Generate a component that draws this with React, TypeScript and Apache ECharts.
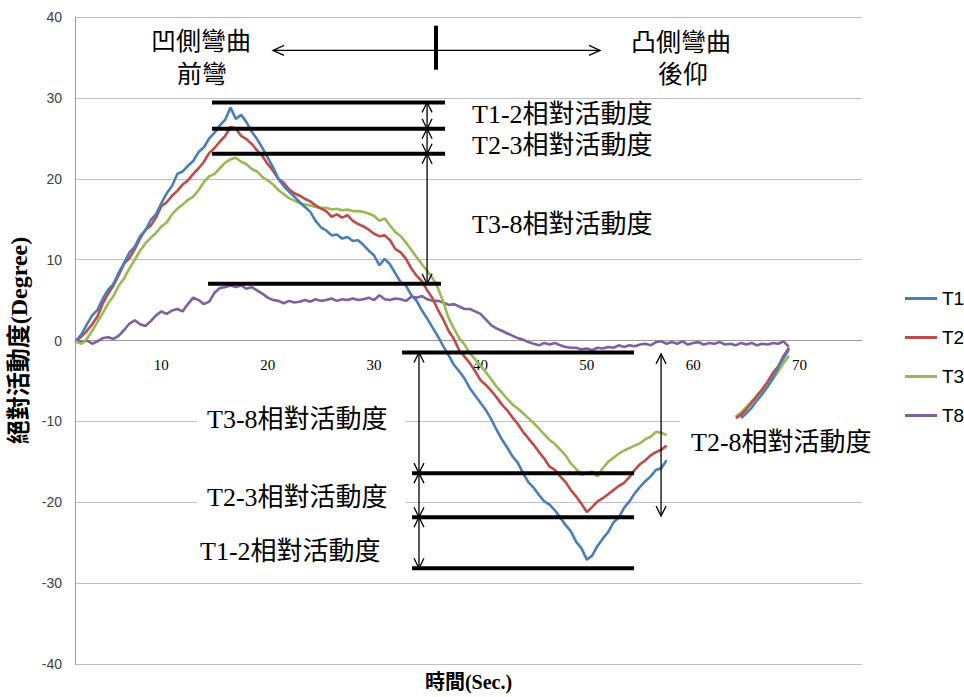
import React, { useEffect, useRef } from "react";
import * as echarts from "echarts";

// ---------- data ----------
const SERIES_NAMES = ["T1", "T2", "T3", "T8"];
const SERIES_COLORS = ["#4A7EBB", "#BE4B48", "#98B954", "#7D60A0"];
// sampling grid: seconds, every 0.5 s from 2.0 to 69.0
const TIME: number[] = Array.from({ length: 135 }, (_, i) => 2 + i * 0.5);
const X_LABELS = [10, 20, 30, 40, 50, 60, 70];
const Y_TICKS = [-40, 40, 10];

const N = null;
const T1 = [
  0.0, 0.8, 2.0, 3.1, 3.8, 5.2, 6.3, 7.0, 8.4, 9.6,
  10.9, 11.6, 12.9, 13.6, 14.9, 15.6, 17.0, 18.2, 19.1, 20.6,
  20.9, 21.6, 22.2, 23.3, 23.9, 25.0, 25.7, 26.6, 27.3, 28.8,
  27.4, 27.9, 27.0, 25.8, 24.9, 23.8, 22.6, 21.4, 20.0, 19.1,
  18.4, 17.8, 17.1, 16.5, 15.9, 14.8, 14.0, 13.6, 13.0, 13.1,
  12.6, 12.8, 12.3, 12.4, 11.8, 11.1, 10.5, 9.3, 10.1, 9.4,
  8.3, 7.2, 6.8, 5.6, 4.9, 3.7, 2.7, 1.6, 0.5, -0.7,
  -1.8, -3.0, -3.8, -4.7, -5.9, -6.8, -7.7, -8.6, -9.7, -11.0,
  -12.2, -13.2, -14.3, -15.1, -16.4, -17.5, -18.2, -19.1, -19.9, -20.3,
  -21.0, -21.9, -22.8, -23.6, -24.9, -25.7, -27.1, -26.6, -25.4, -24.5,
  -23.7, -22.5, -21.9, -20.7, -19.9, -18.9, -18.1, -17.4, -16.8, -16.0,
  -15.8, -14.8, N, N, N, N, N, N, N, N,
  N, N, N, N, N, -9.6, -9.0, -8.3, -7.4, -6.6,
  -5.7, -4.6, -3.3, -2.2, -1.1,
];
const T2 = [
  0.0, 0.5, 1.2, 2.0, 3.0, 4.6, 5.8, 6.8, 8.1, 9.5,
  10.2, 11.3, 12.6, 13.7, 14.2, 15.2, 16.6, 17.1, 17.9, 18.5,
  19.3, 19.8, 20.6, 21.3, 22.1, 23.2, 23.8, 24.6, 25.3, 26.4,
  26.2, 25.3, 24.9, 24.3, 23.5, 22.8, 21.8, 21.0, 20.0, 19.5,
  18.7, 18.2, 17.9, 17.5, 17.2, 16.7, 16.3, 16.0, 15.3, 15.6,
  15.2, 15.5, 14.8, 14.4, 14.1, 13.7, 13.2, 12.9, 13.0, 12.4,
  11.3, 10.9, 10.1, 8.9, 8.0, 7.3, 6.2, 5.2, 3.8, 2.6,
  1.2, 0.2, -1.2, -2.0, -2.8, -3.8, -4.9, -5.5, -6.2, -7.0,
  -7.9, -8.6, -9.5, -10.3, -11.3, -12.1, -12.9, -13.8, -14.6, -15.6,
  -16.0, -16.8, -17.5, -18.5, -19.3, -20.2, -21.2, -20.6, -19.9, -19.5,
  -19.0, -18.5, -18.0, -17.6, -16.9, -16.0, -15.3, -14.8, -14.2, -13.8,
  -13.5, -13.0, N, N, N, N, N, N, N, N,
  N, N, N, N, -9.6, -9.2, -8.5, -7.7, -6.8, -6.0,
  -5.1, -4.0, -3.2, -1.9, -0.9,
];
const T3 = [
  -0.2, -0.4, 0.2, 1.2, 2.3, 3.4, 4.6, 5.5, 6.8, 7.7,
  8.9, 10.0, 11.1, 12.0, 12.7, 13.3, 14.1, 14.6, 15.6, 16.3,
  16.8, 17.4, 17.8, 18.6, 19.6, 20.3, 20.6, 21.3, 22.0, 22.4,
  22.6, 22.1, 21.8, 21.2, 20.9, 20.2, 19.8, 19.3, 18.6, 18.1,
  17.6, 17.3, 17.0, 16.8, 16.7, 16.5, 16.4, 16.4, 16.2, 16.3,
  16.1, 16.2, 16.0, 16.0, 15.9, 15.7, 15.4, 14.8, 15.1, 14.2,
  13.4, 12.9, 12.1, 11.2, 10.3, 9.4, 8.6, 7.7, 6.5, 4.8,
  2.8, 1.5, 0.3, -0.5, -1.6, -2.3, -3.1, -3.9, -4.8, -5.7,
  -6.4, -7.2, -7.9, -8.4, -9.0, -9.6, -10.2, -10.9, -11.6, -12.3,
  -12.8, -13.5, -14.2, -15.2, -15.9, -16.6, -16.4, -16.2, -16.8, -15.8,
  -15.0, -14.5, -14.0, -13.6, -13.3, -13.0, -12.7, -12.2, -11.9, -11.3,
  -11.4, -11.7, N, N, N, N, N, N, N, N,
  N, N, N, N, -9.4, -8.9, -8.2, -7.5, -6.9, -6.4,
  -5.7, -4.8, -3.8, -2.8, -1.9,
];
const T8 = [
  0.1, -0.2, 0.0, -0.4, -0.1, 0.3, 0.4, 0.2, 0.6, 1.3,
  2.1, 2.5, 2.0, 1.8, 2.4, 3.1, 3.6, 3.3, 3.7, 3.9,
  3.6, 4.5, 5.3, 5.0, 4.5, 4.8, 5.9, 6.5, 6.6, 6.8,
  6.6, 6.8, 6.4, 6.6, 6.2, 5.8, 5.3, 5.0, 4.9, 4.6,
  4.9, 4.7, 4.8, 5.0, 4.8, 5.1, 4.9, 5.0, 5.2, 4.9,
  5.1, 5.0, 5.2, 5.0, 5.1, 5.3, 5.0, 5.6, 5.1, 5.0,
  5.2, 5.1, 4.9, 5.4, 5.3, 5.5, 5.1, 4.9, 4.9, 4.7,
  4.4, 4.5, 4.2, 3.9, 3.9, 3.6, 3.3, 2.6, 1.9, 1.5,
  1.2, 0.9, 0.6, 0.3, 0.1, -0.2, -0.4, -0.6, -0.3, -0.5,
  -0.3, -0.6, -0.8, -0.9, -0.9, -1.1, -1.0, -1.2, -0.9, -1.0,
  -0.8, -0.9, -0.6, -0.8, -0.6, -0.7, -0.5, -0.4, -0.6, -0.2,
  -0.1, -0.4, -0.2, -0.4, -0.1, -0.5, -0.3, -0.2, -0.5, -0.3,
  -0.4, -0.2, -0.5, -0.4, -0.6, -0.3, -0.5, -0.3, -0.6, -0.4,
  -0.5, -0.3, -0.4, -0.1, -0.8,
];
const SERIES_VALUES = [T1, T2, T3, T8];

// annotation levels (degrees) and their time spans (s)
const PEAK_LEVELS = [29.44, 26.19, 23.1]; // T1, T2, T3 peaks
const PEAK_SPAN = [14.76, 36.67];
const T8_PEAK_LEVEL = 7.01;
const T8_PEAK_SPAN = [14.39, 36.29];
const TROUGH_LEVELS = [-1.48, -16.4, -21.85, -28.16]; // T8, T3, T2, T1 troughs
const TROUGH_SPAN = [33.57, 54.44];
const T8_TROUGH_START = 32.63;
const PEAK_ARROW_X = 34.98;
const TROUGH_ARROW_X = 34.22;
const T2_8_ARROW = { x: 56.98, from: -1.65, to: -21.7 };
const DIRECTION_ARROW = { y: 35.87, from: 20.5, to: 51.24, mid: 35.82, tickTop: 38.93, tickBottom: 33.49 };

const SERIF_CJK = '"Liberation Serif", "Noto Sans CJK TC", serif';

export default function App() {
  const ref = useRef<HTMLDivElement>(null);

  useEffect(() => {
    if (!ref.current) return;
    const chart = echarts.init(ref.current, null, { renderer: "svg" });

    const lineSeries = SERIES_NAMES.map((name, k) => ({
      name,
      type: "line",
      data: TIME.map((t, i) => [t, SERIES_VALUES[k][i] === null ? "-" : SERIES_VALUES[k][i]]),
      showSymbol: false,
      symbol: "none",
      connectNulls: false,
      lineStyle: { width: 2.6, color: SERIES_COLORS[k] },
      itemStyle: { color: SERIES_COLORS[k] },
      z: 3 + (3 - k),
    }));

    const annotations = {
      type: "custom",
      silent: true,
      z: 10,
      data: [[0, 0]],
      renderItem: (params: any, api: any) => {
        const P = (x: number, y: number) => api.coord([x, y]);
        const kids: any[] = [];
        const seg = (a: number[], b: number[], w: number) =>
          kids.push({ type: "line", shape: { x1: a[0], y1: a[1], x2: b[0], y2: b[1] }, style: { stroke: "#000", lineWidth: w } });
        const head = (pts: number[][]) =>
          kids.push({ type: "polyline", shape: { points: pts }, style: { stroke: "#000", fill: null, lineWidth: 1.3 } });
        const hLevel = (y: number, x0: number, x1: number) => seg(P(x0, y), P(x1, y), 4);
        const vArrow = (x: number, yTop: number, yBot: number) => {
          const a = P(x, yTop);
          const b = P(x, yBot);
          seg(a, b, 1.3);
          head([[a[0] - 5, a[1] + 10], [a[0], a[1]], [a[0] + 5, a[1] + 10]]);
          head([[b[0] - 5, b[1] - 10], [b[0], b[1]], [b[0] + 5, b[1] - 10]]);
        };

        PEAK_LEVELS.forEach((y) => hLevel(y, PEAK_SPAN[0], PEAK_SPAN[1]));
        hLevel(T8_PEAK_LEVEL, T8_PEAK_SPAN[0], T8_PEAK_SPAN[1]);
        TROUGH_LEVELS.forEach((y, i) => hLevel(y, i === 0 ? T8_TROUGH_START : TROUGH_SPAN[0], TROUGH_SPAN[1]));

        const topStack = [...PEAK_LEVELS, T8_PEAK_LEVEL];
        for (let i = 0; i < topStack.length - 1; i++) vArrow(PEAK_ARROW_X, topStack[i], topStack[i + 1]);
        for (let i = 0; i < TROUGH_LEVELS.length - 1; i++) vArrow(TROUGH_ARROW_X, TROUGH_LEVELS[i], TROUGH_LEVELS[i + 1]);
        vArrow(T2_8_ARROW.x, T2_8_ARROW.from, T2_8_ARROW.to);

        // direction arrow at the top
        const l = P(DIRECTION_ARROW.from, DIRECTION_ARROW.y);
        const r = P(DIRECTION_ARROW.to, DIRECTION_ARROW.y);
        seg(l, r, 1.3);
        head([[l[0] + 11, l[1] - 5], [l[0], l[1]], [l[0] + 11, l[1] + 5]]);
        head([[r[0] - 11, r[1] - 5], [r[0], r[1]], [r[0] - 11, r[1] + 5]]);
        seg(P(DIRECTION_ARROW.mid, DIRECTION_ARROW.tickTop), P(DIRECTION_ARROW.mid, DIRECTION_ARROW.tickBottom), 4);

        return { type: "group", children: kids };
      },
    };

    const txt = (text: string, x: number, y: number, align: string, size: number, bg?: boolean, pad?: number[]) => ({
      type: "text",
      x,
      y,
      z: 100,
      silent: true,
      style: {
        text,
        font: `${size}px ${SERIF_CJK}`,
        fill: "#000",
        align,
        verticalAlign: "middle",
        ...(bg ? { backgroundColor: "#fff", padding: pad } : {}),
      },
    });

    chart.setOption({
      animation: false,
      backgroundColor: "#fff",
      grid: { left: 75, right: 102, top: 17, bottom: 33, containLabel: false, outerBoundsMode: "none" },
      legend: {
        orient: "vertical",
        left: 900,
        top: 284,
        icon: "rect",
        itemWidth: 32,
        itemHeight: 3,
        itemGap: 20,
        data: SERIES_NAMES,
        textStyle: { fontFamily: '"Liberation Sans", sans-serif', fontSize: 19, lineHeight: 19, color: "#000" },
      },
      xAxis: {
        type: "value",
        position: "bottom",
        offset: -323.5,
        min: 1.88,
        max: 75.87,
        name: "時間(Sec.)",
        nameLocation: "middle",
        nameGap: 331,
        nameTextStyle: { fontFamily: SERIF_CJK, fontSize: 20, fontWeight: "bold", color: "#000" },
        axisLine: { onZero: false, lineStyle: { color: "#9a9a9a", width: 1 } },
        axisTick: { show: false },
        splitLine: { show: false },
        axisLabel: {
          customValues: X_LABELS,
          fontFamily: '"Liberation Serif", serif',
          fontSize: 15,
          color: "#000",
          margin: 17,
        },
      },
      yAxis: {
        type: "value",
        min: Y_TICKS[0],
        max: Y_TICKS[1],
        interval: Y_TICKS[2],
        name: "絕對活動度(Degree)",
        nameLocation: "middle",
        nameRotate: 90,
        nameGap: 41,
        nameTextStyle: { fontFamily: SERIF_CJK, fontSize: 24, fontWeight: "bold", color: "#000" },
        axisLine: { show: true, lineStyle: { color: "#9a9a9a", width: 1 } },
        axisTick: { show: false },
        splitLine: { show: true, lineStyle: { color: "#c0c0c0", width: 1 } },
        axisLabel: { fontFamily: '"Liberation Sans", sans-serif', fontSize: 14, color: "#404040", margin: 13 },
      },
      series: [...lineSeries, annotations],
      graphic: [
        txt("凹側彎曲", 201, 41, "center", 25),
        txt("前彎", 202, 74, "center", 25),
        txt("凸側彎曲", 681, 42, "center", 25),
        txt("後仰", 683, 74, "center", 25),
        txt("T1-2相對活動度", 472, 114, "left", 26),
        txt("T2-3相對活動度", 472, 145, "left", 26),
        txt("T3-8相對活動度", 472, 224, "left", 26),
        txt("T3-8相對活動度", 197, 419, "left", 26, true, [10, 18, 10, 10]),
        txt("T2-3相對活動度", 197, 497, "left", 26, true, [10, 18, 10, 10]),
        txt("T1-2相對活動度", 200, 551, "left", 26),
        txt("T2-8相對活動度", 680, 442, "left", 26, true, [10, 20, 10, 11]),
      ],
    });

    return () => chart.dispose();
  }, []);

  return (
    <div
      ref={ref}
      style={{ position: "fixed", left: 0, top: 0, width: 964, height: 697, background: "#fff" }}
    />
  );
}
